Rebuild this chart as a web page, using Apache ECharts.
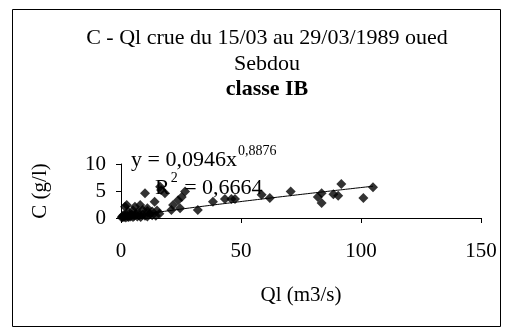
<!DOCTYPE html>
<html>
<head>
<meta charset="utf-8">
<script src="https://cdn.jsdelivr.net/npm/echarts@6/dist/echarts.min.js"></script>
<style>
  html, body { margin: 0; padding: 0; background: #fff; }
  #chart { width: 513px; height: 336px; }
</style>
</head>
<body>
<div id="chart"></div>
<script>
// Liquid discharge Ql (m3/s) and suspended sediment concentration C (g/l)
const ql = [
  0.3, 0.5, 0.8, 1.0, 1.3, 1.6, 2.0, 2.4, 2.8, 3.2, 3.6, 4.0, 4.5, 5.0, 5.6, 6.2,
  6.8, 7.5, 8.2, 9.0, 10.0, 11.0, 12.0, 13.0, 14.5, 16.0,
  3.0, 5.0, 7.0, 9.0, 11.0, 13.0, 15.0,
  1.7, 2.4, 5.8, 8.0, 10.0, 11.0, 14.0, 16.3, 16.7, 18.3, 21.0, 21.7, 23.8, 24.6,
  25.3, 26.7, 32.0, 38.3, 43.3, 46.0, 47.5, 58.6, 62.0, 70.7,
  82.0, 83.6, 83.6, 88.5, 90.5, 91.8, 101.0, 105.0
];
const conc = [
  0.1, 0.3, 0.2, 0.5, 0.2, 0.4, 0.1, 0.6, 0.3, 0.2, 0.5, 0.3, 0.6, 0.2, 0.4, 0.7,
  0.3, 0.5, 0.2, 0.6, 0.4, 0.3, 0.7, 0.5, 0.4, 0.8,
  1.2, 1.4, 1.1, 1.5, 1.3, 1.2, 1.4,
  2.1, 2.4, 2.1, 2.4, 4.6, 1.8, 3.0, 5.8, 5.2, 4.6, 1.5, 2.4, 3.3, 1.8,
  3.9, 4.9, 1.5, 3.0, 3.5, 3.5, 3.5, 4.3, 3.7, 4.9,
  3.9, 2.8, 4.6, 4.4, 4.1, 6.3, 3.7, 5.7
];

// Power trend line C = a * Ql^b, as stated in the equation label
const trendA = 0.0946;
const trendB = 0.8876;
const trendR2 = '0,6664';

const xTicks = [0, 50, 100, 150];
const yTicks = [0, 5, 10];

const points = ql.map((q, i) => [q, conc[i]]);
const qMax = Math.max(...ql);
const trend = [];
for (let k = 0; k <= 200; k++) {
  const q = 0.3 + (qMax - 0.3) * k / 200;
  trend.push([q, trendA * Math.pow(q, trendB)]);
}

const font = '"Liberation Serif", "Times New Roman", serif';
const mainFont = '22px ' + font;
const supFont = '14px ' + font;

// text widths so superscripts sit right after their base text
const ctx = document.createElement('canvas').getContext('2d');
function textWidth(str, f) { ctx.font = f; return ctx.measureText(str).width; }

const eqBase = 'y = ' + String(trendA).replace('.', ',') + 'x';
const eqExp = String(trendB).replace('.', ',');
const eqX = 131, eqY = 160;
const r2X = 155, r2Y = 188;
const rW = textWidth('R', mainFont);
const supW = textWidth('2', supFont);

function txt(x, y, s, f, extra) {
  return Object.assign({ type: 'text', x: x, y: y, z: 10, silent: true,
    style: { text: s, font: f, fill: '#000', align: 'left', verticalAlign: 'middle' } }, extra || {});
}

const chart = echarts.init(document.getElementById('chart'), null, { renderer: 'canvas' });

chart.setOption({
  animation: false,
  backgroundColor: '#fff',
  grid: { left: 121, right: 32, top: 164, bottom: 118 },
  xAxis: {
    type: 'value', min: xTicks[0], max: xTicks[xTicks.length - 1], interval: 50,
    axisLine: { lineStyle: { color: '#000', width: 1 } },
    axisTick: { show: true, inside: false, length: 5, lineStyle: { color: '#000' } },
    axisLabel: { color: '#000', fontFamily: font, fontSize: 21, margin: 23 },
    splitLine: { show: false },
    name: 'Ql (m3/s)', nameLocation: 'middle', nameGap: 67,
    nameTextStyle: { color: '#000', fontFamily: font, fontSize: 21 }
  },
  yAxis: {
    type: 'value', min: yTicks[0], max: yTicks[yTicks.length - 1], interval: 5,
    axisLine: { show: true, lineStyle: { color: '#000', width: 1 } },
    axisTick: { show: true, inside: false, length: 5, lineStyle: { color: '#000' } },
    axisLabel: { color: '#000', fontFamily: font, fontSize: 21, margin: 15 },
    splitLine: { show: false },
    name: 'C (g/l)', nameLocation: 'middle', nameGap: 70, nameRotate: 90,
    nameTextStyle: { color: '#000', fontFamily: font, fontSize: 21 }
  },
  series: [
    {
      type: 'scatter', data: points, symbol: 'diamond', symbolSize: 10,
      itemStyle: { color: '#000' }, z: 3
    },
    {
      type: 'line', data: trend, showSymbol: false, smooth: false,
      lineStyle: { color: '#000', width: 1 }, z: 4
    }
  ],
  graphic: [
    { type: 'rect', silent: true, shape: { x: 12.5, y: 9.5, width: 488, height: 317 },
      style: { fill: 'none', stroke: '#000', lineWidth: 1 } },
    Object.assign(txt(267, 38, 'C - Ql crue du 15/03 au 29/03/1989 oued', mainFont), {}),
    txt(267, 64, 'Sebdou', mainFont),
    txt(267, 89, 'classe IB', 'bold ' + mainFont),
    txt(eqX, eqY, eqBase, mainFont),
    txt(eqX + textWidth(eqBase, mainFont) + 1, eqY - 9, eqExp, supFont),
    txt(r2X, r2Y, 'R', mainFont),
    txt(r2X + rW + 1, r2Y - 10, '2', supFont),
    txt(r2X + rW + supW + 2, r2Y, ' = ' + trendR2, mainFont)
  ].map(function (g, i) {
    if (i >= 1 && i <= 3) g.style.align = 'center';
    return g;
  })
});
</script>
</body>
</html>
